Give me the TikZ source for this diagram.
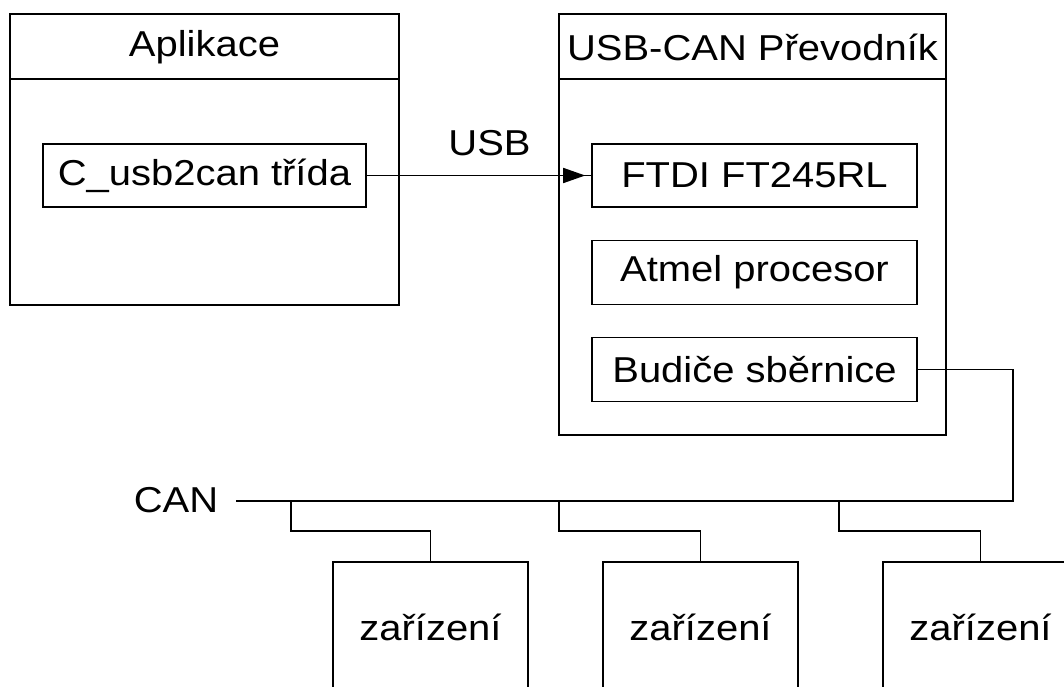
\documentclass[tikz,border=0pt]{standalone}
\usepackage{fontspec}
\setmainfont{Liberation Sans}[FakeStretch=1.11]
\usetikzlibrary{arrows.meta}
\tikzset{
  x=1pt, y=-1pt,
  wire/.style={line width=1.6pt},
  box/.style={draw, line width=1.6pt, rectangle, inner sep=0pt, anchor=center},
  lbl/.style={inner sep=0pt, anchor=center},
}
\begin{document}
\begin{tikzpicture}
\fontsize{36}{43}\selectfont
\useasboundingbox (0,0) rectangle (1064,687);
\clip (0,0) rectangle (1064,687);

% application package
\node[box, minimum width=389pt, minimum height=291pt] (app) at (204.5,159.5) {};
\draw[wire] (10,79) coordinate (appL) -- (399,79) coordinate (appR);
\node[lbl] (apptitle) at (204.5,47) {Aplikace};
\node[box, minimum width=323pt, minimum height=63pt] (cls) at (204.5,175.5) {C\_usb2can třída};

% converter package
\node[box, minimum width=387pt, minimum height=421pt] (conv) at (752.5,224.5) {};
\draw[wire] (559,79) coordinate (convL) -- (946,79) coordinate (convR);
\node[lbl] (convtitle) at (752.5,47) {USB-CAN Převodník};
\node[box, minimum width=325pt, minimum height=63pt] (ftdi) at (754.5,175.5) {FTDI FT245RL};
\node[box, minimum width=325pt, minimum height=64pt] (atmel) at (754.5,272.5) {Atmel procesor};
\node[box, minimum width=325pt, minimum height=64pt] (bud) at (754.5,369.5) {Budiče sběrnice};

% USB link
\draw[wire] (cls.east) -- (ftdi.west);
\draw[wire, -{Triangle[length=22pt,width=15pt]}, shorten >=6pt] (cls.east) -- (ftdi.west);
\node[lbl] (usb) at (489.5,143) {USB};

% CAN bus
\node[lbl] (can) at (176,500) {CAN};
\coordinate (busL) at (236,501);
\coordinate (busR) at (1013,501);
\draw[wire] (bud.east) -| (busR) -- (busL);

% devices on the bus
\node[box, minimum width=195pt, minimum height=130pt] (dev1) at (430.5,627) {zařízení};
\node[box, minimum width=195pt, minimum height=130pt] (dev2) at (700.5,627) {zařízení};
\node[box, minimum width=195pt, minimum height=130pt] (dev3) at (980.5,627) {zařízení};

\coordinate (tap1) at (291,501);
\coordinate (tap2) at (559,501);
\coordinate (tap3) at (839,501);
\draw[wire] (tap1) -- (291,531) -| (dev1.north);
\draw[wire] (tap2) -- (559,531) -| (dev2.north);
\draw[wire] (tap3) -- (839,531) -| (dev3.north);
\end{tikzpicture}
\end{document}
